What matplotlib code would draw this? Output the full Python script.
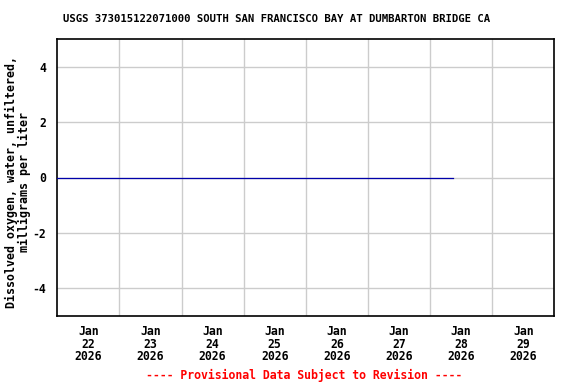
import matplotlib
matplotlib.use("Agg")
import matplotlib.pyplot as plt
import matplotlib.dates as mdates
import numpy as np
import pandas as pd

title = "USGS 373015122071000 SOUTH SAN FRANCISCO BAY AT DUMBARTON BRIDGE CA"
ylabel = "Dissolved oxygen, water, unfiltered,\nmilligrams per liter"
footer = "---- Provisional Data Subject to Revision ----"

times = pd.to_datetime(["2026-01-22 00:00", "2026-01-28 08:45"])
values = [0.0, 0.0]

day_starts = pd.date_range("2026-01-22", "2026-01-30", freq="D")
label_days = pd.date_range("2026-01-22 12:00", "2026-01-29 12:00", freq="D")
tick_labels = [f"{d.strftime('%b')}\n{d.day}\n{d.year}" for d in label_days]
yticks = [-4, -2, 0, 2, 4]

plt.rcParams['font.family'] = ['DejaVu Sans Mono']
plt.rcParams['font.weight'] = 'bold'

fig = plt.figure(figsize=(5.76, 3.84), dpi=100)
ax = fig.add_axes([57.3/576, 1-315.7/384, (554.3-57.3)/576, (315.7-39.3)/384])

ax.plot(times, values, color="#0000aa", lw=0.9, zorder=3)

ax.set_xlim(day_starts[0], day_starts[-1])
ax.set_ylim(-5, 5)
ax.set_xticks(label_days)
ax.set_xticklabels(tick_labels, fontsize=8.3, fontweight='bold', linespacing=0.95)
ax.set_xticks(day_starts[1:-1], minor=True)
ax.set_yticks(yticks)
ax.set_yticklabels([str(v) for v in yticks], fontsize=8.3, fontweight='bold')
ax.tick_params(axis='both', which='both', length=0)
ax.tick_params(axis='x', pad=7)
ax.tick_params(axis='y', pad=8)
ax.grid(False)
ax.xaxis.grid(True, which='minor', color='#cccccc', lw=1)
ax.yaxis.grid(True, which='major', color='#cccccc', lw=1)
for s in ax.spines.values():
    s.set_linewidth(1.2)
    s.set_color('black')

fig.text(18/576, 1-182/384, ylabel, rotation=90, ha='center', va='center',
         fontsize=8.4, fontweight='bold', linespacing=1.0)
fig.text(277/576, 1-19/384, title, ha='center', va='center', fontsize=7.7, fontweight='bold')
fig.text(304/576, 1-375/384, footer, ha='center', va='center', fontsize=8.3,
         fontweight='bold', color='red')

fig.savefig("out.png", dpi=100)
